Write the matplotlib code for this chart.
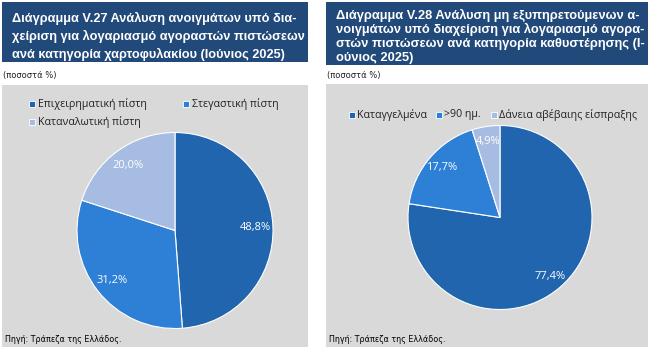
import matplotlib
matplotlib.use("Agg")
import matplotlib.pyplot as plt
from matplotlib.patches import Rectangle
from matplotlib.transforms import Affine2D

# ---- data ----
left_title = ["Διάγραμμα V.27 Ανάλυση ανοιγμάτων υπό δια-",
              "χείριση για λογαριασμό αγοραστών πιστώσεων",
              "ανά κατηγορία χαρτοφυλακίου (Ιούνιος 2025)"]
left_labels = ["Επιχειρηματική πίστη", "Στεγαστική πίστη", "Καταναλωτική πίστη"]
left_values = [48.8, 31.2, 20.0]

right_title = ["Διάγραμμα V.28 Ανάλυση μη εξυπηρετούμενων α-",
               "νοιγμάτων υπό διαχείριση για λογαριασμό αγορα-",
               "στών πιστώσεων ανά κατηγορία καθυστέρησης (Ι-",
               "ούνιος 2025)"]
right_labels = ["Καταγγελμένα", ">90 ημ.", "Δάνεια αβέβαιης είσπραξης"]
right_values = [77.4, 17.7, 4.9]

unit_text = "(ποσοστά %)"
source_text = "Πηγή: Τράπεζα της Ελλάδος."

colors = ["#2165AE", "#2E7FD6", "#A7BCE2"]
navy = "#21497A"
grey = "#D9D9D9"

W, H = 652, 351
fig = plt.figure(figsize=(W / 100, H / 100), dpi=100)
fig.patch.set_facecolor("white")

# transform: pixel coords from top-left
pix = Affine2D().scale(1 / W, -1 / H).translate(0, 1) + fig.transFigure


def rect(x0, y0, x1, y1, color):
    fig.patches.append(Rectangle((x0, y1), x1 - x0, y0 - y1, transform=pix,
                                 facecolor=color, edgecolor="none", zorder=-5))


# panels
rect(2, 2, 308, 62, navy)
rect(2, 85, 308, 347, grey)
rect(326, 2, 648, 65, navy)
rect(326, 84, 648, 347, grey)

fig.canvas.draw()
renderer = fig.canvas.get_renderer()


def fit_title(lines, x0, y0, dy, max_w, size):
    texts = []
    for i, line in enumerate(lines):
        t = fig.text(x0, y0 + i * dy, line, transform=pix, color="white", fontsize=size,
                     fontweight="bold", family="Liberation Sans", va="center", ha="left")
        texts.append(t)
    widest = max(t.get_window_extent(renderer).width for t in texts)
    if widest > max_w:
        for t in texts:
            t.set_fontsize(size * max_w / widest)


fit_title(left_title, 12, 18, 18, 290, 10)
fit_title(right_title, 336, 15, 14.5, 308, 10)

for x0 in (3, 327):
    fig.text(x0, 75.5, unit_text, transform=pix, color="#222222", fontsize=6.0,
             family="DejaVu Sans", va="center", ha="left")
    fig.text(x0 + 2, 340, source_text, transform=pix, color="#000000", fontsize=5.8,
             family="DejaVu Sans", va="center", ha="left")


def make_pie(cx, cy, r, values, pctd):
    ax = fig.add_axes([(cx - r) / W, (H - cy - r) / H, 2 * r / W, 2 * r / H])
    ax.set_zorder(1)
    wedges, _, autotexts = ax.pie(values, colors=colors, startangle=90, counterclock=False,
                                  autopct=lambda p: f"{p:.1f}%".replace(".", ","),
                                  pctdistance=pctd,
                                  wedgeprops=dict(edgecolor="white", linewidth=0.8))
    for t in autotexts:
        t.set_color("white")
        t.set_fontsize(8)
        t.set_family("Open Sans")
    ax.set_xlim(-1, 1)
    ax.set_ylim(-1, 1)
    ax.set_aspect("equal")
    ax.axis("off")
    return autotexts


make_pie(175, 230.5, 98, left_values, 0.82)
make_pie(500, 217.5, 92, right_values, 0.84)


def legend_sq(x, y, color):
    fig.patches.append(Rectangle((x - 3, y - 3), 6, 6, transform=pix,
                                 facecolor=color, edgecolor="white", linewidth=0.6, zorder=2))


left_leg = [(32, 104), (186, 104), (32, 122)]
for (x, y), lab, c in zip(left_leg, left_labels, colors):
    legend_sq(x, y, c)
    fig.text(x + 5.5, y, lab, transform=pix, color="#222222", fontsize=7.7,
             family="Open Sans", va="center", ha="left")

right_leg = [(352, 115), (439, 115), (494, 115)]
for (x, y), lab, c in zip(right_leg, right_labels, colors):
    legend_sq(x, y, c)
    fig.text(x + 5, y, lab, transform=pix, color="#222222", fontsize=7.7,
             family="Open Sans", va="center", ha="left")

fig.savefig("out.png", dpi=100, facecolor="white")
